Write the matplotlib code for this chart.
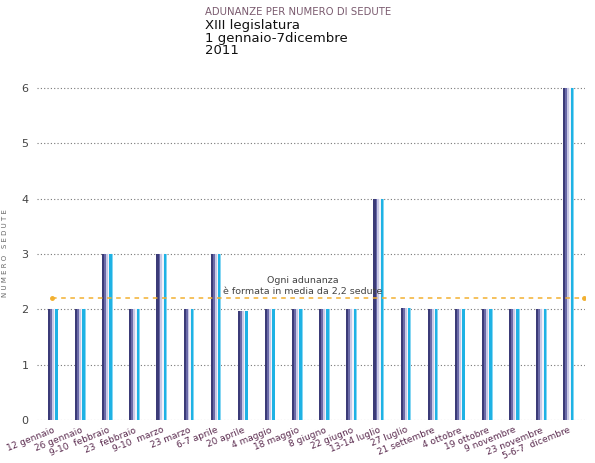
import numpy as np
import matplotlib.pyplot as plt

date = ['12 gennaio', '26 gennaio', '9-10  febbraio', '23  febbraio', '9-10  marzo',
        '23 marzo', '6-7 aprile', '20 aprile', '4 maggio', '18 maggio', '8 giugno',
        '22 giugno', '13-14 luglio', '27 luglio', '21 settembre', '4 ottobre',
        '19 ottobre', '9 novembre', '23 novembre', '5-6-7  dicembre']
sedute = [2, 2, 3, 2, 3, 2, 3, 1.97, 2, 2, 2, 2, 4, 2.03, 2, 2, 2, 2, 2, 6]
media = 2.2

fig = plt.figure(figsize=(5.95, 4.63), dpi=100)
ax = fig.add_axes([0.062, 0.093, 0.921, 0.723])

x = np.arange(len(date))

# cylinder look: thin vertical stripes per bar, dark on the left, cyan on the right
stripes = [('#3b3b78', 0.08), ('#6a6aa8', 0.07), ('#c9c9e6', 0.07),
           ('#f2f2fa', 0.05), ('#1eb2e4', 0.09), ('#86d6f2', 0.03)]
total = sum(w for _, w in stripes)
off = -total / 2
for col, w in stripes:
    ax.bar(x + off, sedute, width=w, align='edge', color=col, linewidth=0, zorder=3)
    off += w

# mean line
ax.plot([-0.05, 19.55], [media, media], color='#f2b030', ls=(0, (3, 3)), lw=1.1,
        zorder=4)
ax.plot([-0.05, 19.55], [media, media], 'o', color='#f2b030', ms=2.5, zorder=4)
ax.text(9.2, 2.24, 'Ogni adunanza\nè formata in media da 2,2 sedute', ha='center',
        va='bottom', fontsize=6.8, color='#444444', linespacing=1.3)

ax.set_xlim(-0.6, 19.6)
ax.set_ylim(0, 6.05)
ax.set_yticks(range(7))
ax.yaxis.grid(True, ls=(0, (1, 2)), color='#777777', lw=0.8, zorder=0)
for s in ax.spines.values():
    s.set_visible(False)
ax.tick_params(axis='both', length=0)
ax.tick_params(axis='y', labelsize=8, labelcolor='#444444', pad=6)
ax.set_xticks(x)
ax.set_xticklabels(date, rotation=22, ha='right', rotation_mode='anchor',
                   fontsize=6.5, color='#5a2a4e')
ax.tick_params(axis='x', pad=4)
ax.set_ylabel('N U M E R O   S E D U T E', fontsize=5, color='#666666', labelpad=10)

fig.text(0.345, 0.975, 'ADUNANZE PER NUMERO DI SEDUTE', fontsize=7.3, color='#7a5a6e',
         va='center')
fig.text(0.345, 0.958, 'XIII legislatura\n1 gennaio-7dicembre\n2011', fontsize=9.5,
         color='#111111', va='top', linespacing=0.95)

fig.savefig('out.png', dpi=100)
